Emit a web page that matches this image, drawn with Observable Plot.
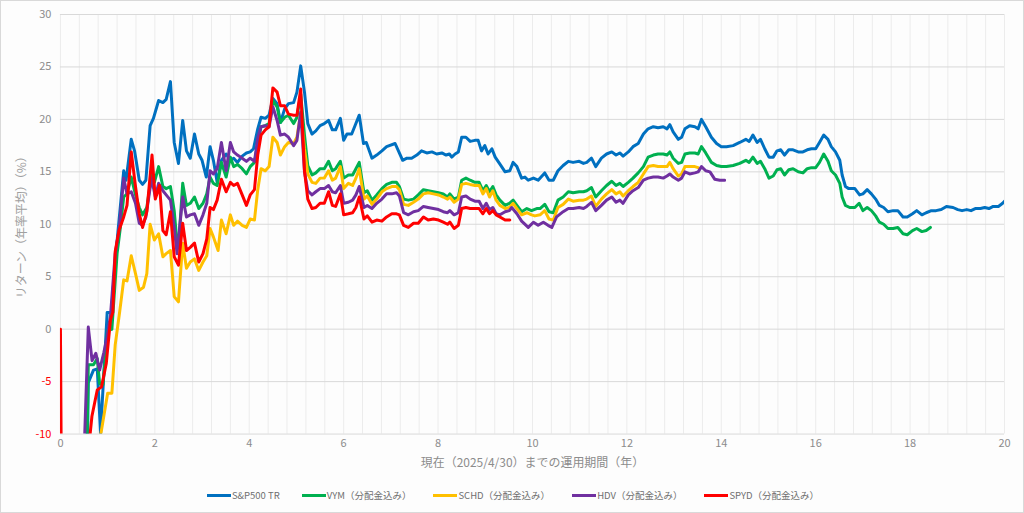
<!DOCTYPE html>
<html>
<head>
<meta charset="utf-8">
<script src="https://cdn.jsdelivr.net/npm/d3@7"></script>
<script src="https://cdn.jsdelivr.net/npm/@observablehq/plot@0.6"></script>
<style>
  html, body { margin: 0; padding: 0; background: #ffffff; }
  #frame { position: relative; width: 1022px; height: 511px; border: 1px solid #d9d9d9; background: #fdfdfd; overflow: hidden; font-family: "Noto Sans CJK JP", "Noto Sans", sans-serif; }
  #chart { position: absolute; left: -1px; top: -1px; }
  #legend { position: absolute; left: 0; top: 487px; width: 1024px; display: flex; justify-content: center; align-items: center; font-size: 9.5px; color: #6f6f6f; }
  .item { display: flex; align-items: center; margin-right: 22px; }
  .item:last-child { margin-right: 0; }
  .sw { width: 24px; height: 3px; margin-right: 1px; }
</style>
</head>
<body>
<div id="frame"><div id="chart"></div><div id="legend"></div></div>
<script>
const seriesNames = ["S&P500 TR", "VYM（分配金込み）", "SCHD（分配金込み）", "HDV（分配金込み）", "SPYD（分配金込み）"];
const seriesColors = ["#0070C0", "#00B050", "#FFC000", "#7030A0", "#FF0000"];
const xTicks = [0, 2, 4, 6, 8, 10, 12, 14, 16, 18, 20];
const yTicks = [-10, -5, 0, 5, 10, 15, 20, 25, 30];
const xTitle = "現在（2025/4/30）までの運用期間（年）";
const yTitle = "リターン（年率平均）（%）";

// [運用期間(年), 年率リターン(%)]
const sp500 = [[0.5,-35],[0.59,-5.1],[0.70,-3.9],[0.78,-3.8],[0.85,-9.9],[0.99,1.6],[1.08,1.6],[1.17,7.0],[1.25,10.8],[1.34,15.1],[1.39,14.2],[1.50,18.1],[1.57,17.0],[1.67,14.2],[1.74,13.8],[1.81,14.2],[1.90,19.4],[1.97,20.1],[2.08,21.8],[2.17,21.6],[2.24,21.9],[2.33,23.6],[2.41,17.8],[2.50,15.8],[2.59,19.9],[2.67,17.0],[2.75,16.3],[2.84,18.6],[2.93,16.7],[3.0,16.1],[3.09,14.5],[3.17,17.4],[3.24,16.1],[3.32,14.0],[3.41,16.1],[3.51,16.7],[3.6,16.1],[3.67,16.3],[3.75,15.9],[3.85,16.5],[3.94,16.8],[4.02,16.9],[4.09,17.2],[4.18,19.1],[4.25,20.2],[4.34,20.1],[4.42,20.4],[4.50,22.0],[4.59,21.5],[4.66,19.7],[4.75,21.0],[4.83,21.5],[4.94,21.6],[5.01,22.6],[5.09,25.1],[5.17,22.6],[5.24,19.6],[5.33,18.6],[5.41,18.9],[5.50,19.4],[5.59,19.6],[5.68,19.9],[5.76,19.0],[5.83,19.0],[5.93,20.1],[6.0,18.0],[6.07,18.6],[6.17,18.6],[6.24,19.4],[6.33,20.4],[6.42,17.7],[6.48,17.8],[6.60,16.3],[6.70,16.6],[6.81,17.0],[6.91,17.4],[7.09,17.7],[7.16,17.0],[7.25,16.1],[7.34,16.3],[7.44,16.3],[7.55,16.6],[7.65,17.0],[7.76,16.8],[7.87,16.9],[7.97,16.7],[8.08,16.8],[8.17,16.6],[8.24,16.7],[8.29,16.4],[8.36,16.7],[8.43,16.9],[8.50,18.3],[8.59,18.3],[8.68,17.9],[8.78,18.0],[8.85,18.0],[8.92,17.0],[8.99,17.5],[9.06,16.7],[9.14,17.2],[9.21,16.4],[9.30,15.8],[9.42,15.0],[9.52,15.1],[9.59,15.9],[9.67,15.5],[9.77,14.4],[9.84,14.5],[9.91,14.2],[10.02,14.4],[10.12,14.2],[10.26,14.9],[10.35,14.2],[10.44,14.2],[10.54,15.1],[10.65,15.6],[10.76,16.0],[10.86,15.9],[10.99,16.0],[11.08,15.8],[11.15,15.9],[11.25,16.3],[11.34,15.5],[11.46,16.3],[11.57,16.7],[11.68,16.9],[11.77,16.6],[11.85,16.8],[11.92,16.5],[12.03,16.9],[12.13,17.4],[12.24,17.7],[12.35,18.6],[12.45,19.1],[12.56,19.3],[12.66,19.2],[12.77,19.3],[12.85,19.1],[12.91,19.5],[12.98,18.8],[13.09,18.1],[13.16,18.3],[13.23,19.1],[13.33,19.4],[13.44,19.3],[13.51,19.1],[13.58,20.0],[13.67,19.3],[13.79,18.3],[13.90,17.7],[14.0,17.4],[14.11,17.4],[14.25,17.5],[14.39,17.8],[14.52,18.1],[14.59,17.9],[14.67,18.5],[14.76,17.8],[14.83,18.1],[14.92,17.2],[15.01,16.4],[15.10,16.4],[15.18,17.0],[15.26,17.1],[15.34,16.6],[15.43,17.1],[15.52,17.1],[15.63,16.9],[15.73,16.9],[15.82,17.1],[15.91,17.2],[16.0,17.2],[16.08,17.8],[16.17,18.5],[16.26,18.1],[16.33,17.4],[16.42,16.9],[16.51,16.1],[16.56,14.7],[16.63,13.6],[16.70,13.4],[16.83,13.4],[16.93,12.8],[17.0,12.9],[17.09,13.3],[17.18,12.9],[17.27,12.4],[17.35,11.8],[17.44,11.6],[17.53,11.2],[17.64,11.3],[17.74,11.3],[17.85,10.7],[17.94,10.7],[18.05,11.0],[18.14,11.3],[18.25,10.9],[18.34,11.1],[18.45,11.3],[18.55,11.3],[18.66,11.4],[18.77,11.7],[18.91,11.6],[19.01,11.4],[19.10,11.3],[19.20,11.4],[19.29,11.3],[19.38,11.5],[19.49,11.5],[19.58,11.6],[19.67,11.5],[19.76,11.7],[19.87,11.7],[19.96,12.0],[20.0,12.2]];

const vym = [[0.5,-27],[0.59,-3.4],[0.70,-3.4],[0.78,-2.8],[0.83,-5.2],[0.90,-5.3],[1.0,-0.1],[1.09,0.0],[1.20,7.2],[1.27,9.7],[1.34,12.6],[1.41,12.9],[1.50,14.5],[1.59,12.8],[1.67,11.6],[1.74,10.9],[1.83,11.6],[1.93,14.7],[1.99,14.0],[2.08,15.5],[2.17,13.6],[2.24,13.4],[2.33,13.6],[2.41,11.3],[2.47,8.2],[2.50,7.8],[2.59,13.9],[2.67,11.8],[2.75,12.0],[2.84,12.6],[2.93,11.5],[3.02,12.0],[3.10,12.9],[3.17,14.5],[3.24,13.9],[3.32,13.7],[3.41,15.9],[3.51,14.5],[3.60,16.4],[3.67,15.5],[3.75,15.7],[3.85,15.3],[3.94,14.8],[4.02,15.5],[4.11,15.9],[4.18,17.7],[4.25,19.3],[4.34,19.4],[4.42,19.6],[4.50,21.8],[4.59,21.2],[4.66,19.7],[4.75,20.2],[4.83,20.4],[4.94,19.6],[5.01,20.2],[5.09,22.4],[5.17,18.5],[5.24,15.6],[5.33,14.7],[5.41,14.9],[5.50,15.3],[5.59,15.3],[5.68,16.0],[5.76,15.1],[5.83,15.3],[5.93,16.0],[6.0,14.4],[6.10,14.7],[6.19,14.7],[6.26,15.3],[6.33,15.9],[6.43,13.0],[6.50,13.2],[6.60,12.3],[6.70,12.8],[6.81,13.4],[6.91,13.8],[7.02,14.0],[7.12,14.0],[7.18,13.6],[7.27,12.4],[7.37,12.3],[7.48,12.4],[7.58,12.8],[7.69,13.3],[7.79,13.2],[7.90,13.1],[8.01,13.0],[8.11,12.9],[8.20,12.6],[8.25,12.9],[8.34,12.4],[8.43,12.6],[8.50,14.2],[8.59,14.4],[8.68,14.2],[8.78,14.0],[8.87,14.0],[8.95,13.2],[9.02,13.7],[9.09,13.1],[9.16,13.6],[9.23,12.8],[9.31,12.3],[9.42,11.8],[9.51,12.0],[9.59,12.3],[9.67,11.8],[9.77,11.2],[9.88,11.5],[9.98,11.3],[10.09,11.5],[10.16,11.5],[10.26,11.9],[10.35,11.2],[10.44,11.1],[10.54,12.3],[10.65,12.6],[10.76,13.1],[10.86,13.0],[10.99,13.1],[11.08,13.1],[11.15,13.2],[11.25,13.5],[11.34,12.6],[11.46,13.2],[11.57,13.7],[11.68,14.1],[11.77,13.7],[11.85,13.9],[11.92,13.6],[12.03,14.0],[12.13,14.4],[12.24,14.9],[12.35,15.5],[12.45,16.4],[12.56,16.6],[12.66,16.7],[12.77,16.7],[12.85,16.6],[12.91,16.9],[12.98,16.3],[13.09,15.8],[13.16,15.9],[13.23,16.7],[13.33,16.8],[13.44,16.8],[13.51,16.7],[13.58,17.4],[13.67,16.8],[13.79,15.9],[13.90,15.6],[14.0,15.5],[14.11,15.5],[14.25,15.6],[14.39,15.8],[14.52,16.1],[14.59,15.9],[14.67,16.4],[14.76,15.8],[14.83,16.0],[14.92,15.3],[15.01,14.4],[15.10,14.6],[15.18,15.2],[15.26,15.3],[15.34,14.7],[15.43,15.2],[15.52,15.3],[15.63,15.0],[15.73,14.9],[15.82,15.3],[15.91,15.4],[16.0,15.4],[16.08,15.9],[16.17,16.7],[16.26,16.0],[16.33,15.1],[16.42,14.7],[16.51,13.9],[16.56,12.6],[16.63,11.8],[16.72,11.6],[16.83,11.6],[16.92,12.0],[17.0,11.3],[17.09,11.6],[17.18,11.3],[17.27,10.8],[17.35,10.2],[17.44,10.0],[17.53,9.6],[17.64,9.6],[17.74,9.7],[17.85,9.1],[17.94,9.0],[18.05,9.4],[18.14,9.6],[18.25,9.3],[18.34,9.4],[18.43,9.7]];

const schd = [[0.75,-14],[0.833,-10.6],[1.0,-6.1],[1.09,-6.1],[1.16,-1.5],[1.25,1.5],[1.34,4.7],[1.41,4.6],[1.50,7.0],[1.59,5.3],[1.67,3.7],[1.76,4.0],[1.83,5.3],[1.90,10.0],[1.99,8.5],[2.08,9.1],[2.17,6.9],[2.24,7.2],[2.33,7.5],[2.41,3.1],[2.50,2.6],[2.59,8.2],[2.67,5.8],[2.75,6.4],[2.84,6.7],[2.93,5.6],[3.02,6.4],[3.10,7.0],[3.17,9.6],[3.24,8.8],[3.34,7.5],[3.41,10.4],[3.51,9.1],[3.60,10.9],[3.67,9.9],[3.75,10.3],[3.85,9.9],[3.94,9.7],[4.02,10.5],[4.11,10.4],[4.18,13.3],[4.25,15.3],[4.34,15.1],[4.42,15.5],[4.50,18.3],[4.59,17.8],[4.66,16.6],[4.75,17.4],[4.83,17.8],[4.94,17.7],[5.01,18.3],[5.09,20.6],[5.17,17.2],[5.24,14.8],[5.33,14.0],[5.41,13.9],[5.50,14.4],[5.59,14.4],[5.68,15.1],[5.76,14.2],[5.83,14.4],[5.93,15.5],[6.0,13.4],[6.10,13.9],[6.19,13.7],[6.26,14.4],[6.33,15.3],[6.43,12.4],[6.50,12.7],[6.60,11.9],[6.70,12.4],[6.81,13.1],[6.91,13.4],[7.02,13.6],[7.12,13.6],[7.18,13.3],[7.27,11.9],[7.37,11.8],[7.48,12.1],[7.58,12.4],[7.69,12.9],[7.79,13.0],[7.90,12.9],[8.01,12.8],[8.11,12.6],[8.20,12.4],[8.25,12.6],[8.34,12.1],[8.43,12.4],[8.50,13.8],[8.59,13.9],[8.68,13.8],[8.78,13.7],[8.87,13.7],[8.95,12.9],[9.02,13.4],[9.09,12.6],[9.16,13.2],[9.23,12.3],[9.31,11.8],[9.42,11.5],[9.51,11.6],[9.59,12.0],[9.67,11.5],[9.77,10.9],[9.88,11.1],[9.98,10.9],[10.05,10.8],[10.16,10.9],[10.26,11.3],[10.35,10.5],[10.44,10.4],[10.54,11.6],[10.65,11.9],[10.76,12.4],[10.86,12.2],[10.99,12.3],[11.08,12.3],[11.15,12.4],[11.25,12.7],[11.34,11.7],[11.46,12.4],[11.57,12.9],[11.68,13.3],[11.77,12.9],[11.85,13.1],[11.92,12.7],[12.03,13.2],[12.13,13.6],[12.24,14.0],[12.35,14.8],[12.45,15.5],[12.56,15.6],[12.66,15.5],[12.77,15.5],[12.85,15.5],[12.91,15.9],[12.98,15.3],[13.09,14.6],[13.16,14.8],[13.23,15.5],[13.33,15.5],[13.44,15.5],[13.51,15.4]];

const hdv = [[0.5,-12],[0.59,0.2],[0.67,-3.0],[0.75,-2.3],[0.83,-3.9],[0.92,-2.2],[0.99,-0.7],[1.06,1.3],[1.16,7.2],[1.24,9.4],[1.34,14.4],[1.41,12.9],[1.50,13.1],[1.59,12.0],[1.67,10.1],[1.74,9.9],[1.81,10.7],[1.93,14.4],[2.01,12.6],[2.08,13.9],[2.17,13.2],[2.24,12.8],[2.33,12.3],[2.41,9.7],[2.47,7.2],[2.59,12.6],[2.67,10.7],[2.75,10.9],[2.84,11.0],[2.93,9.9],[3.02,10.9],[3.10,12.0],[3.17,15.1],[3.24,14.8],[3.32,15.3],[3.41,17.8],[3.51,15.1],[3.60,17.8],[3.67,16.9],[3.75,16.6],[3.85,16.3],[3.94,16.0],[4.02,16.3],[4.11,16.0],[4.18,18.2],[4.25,19.3],[4.34,19.4],[4.42,19.3],[4.50,21.2],[4.59,19.9],[4.66,18.5],[4.75,18.6],[4.83,18.3],[4.94,17.5],[5.01,18.0],[5.09,20.7],[5.17,15.0],[5.24,13.2],[5.33,12.8],[5.41,13.1],[5.50,13.4],[5.59,13.4],[5.68,13.7],[5.76,13.1],[5.83,13.0],[5.93,13.7],[6.0,12.0],[6.10,12.1],[6.19,12.3],[6.26,12.8],[6.33,13.6],[6.43,11.6],[6.50,11.8],[6.60,11.5],[6.70,12.0],[6.81,12.4],[6.91,12.9],[7.02,12.9],[7.12,13.0],[7.18,12.7],[7.27,11.1],[7.37,10.9],[7.48,11.2],[7.58,11.3],[7.69,11.7],[7.79,11.6],[7.90,11.5],[8.01,11.4],[8.11,11.2],[8.20,11.1],[8.25,11.3],[8.34,10.9],[8.43,11.1],[8.50,12.6],[8.59,12.7],[8.68,12.4],[8.78,12.2],[8.87,12.2],[8.95,11.5],[9.02,12.0],[9.09,11.4],[9.16,11.6],[9.23,11.0],[9.31,10.9],[9.42,11.2],[9.51,11.3],[9.56,11.6],[9.67,11.0],[9.77,10.3],[9.91,9.7],[10.02,10.2],[10.12,9.9],[10.23,10.2],[10.33,9.9],[10.41,9.7],[10.51,10.7],[10.65,11.2],[10.76,11.5],[10.86,11.5],[10.99,11.6],[11.08,11.5],[11.15,11.7],[11.25,12.1],[11.34,11.3],[11.46,11.8],[11.57,12.3],[11.68,12.6],[11.77,12.1],[11.85,12.3],[11.92,12.0],[12.03,12.8],[12.13,13.2],[12.24,13.5],[12.35,14.2],[12.45,14.4],[12.56,14.5],[12.66,14.5],[12.77,14.4],[12.85,14.6],[12.91,14.8],[12.98,14.5],[13.09,14.2],[13.16,14.4],[13.23,15.0],[13.33,14.8],[13.44,14.9],[13.51,15.0],[13.58,15.5],[13.67,15.1],[13.76,15.0],[13.86,14.3],[13.97,14.2],[14.07,14.2]];

const spyd = [[0,0],[0.083,-60],[0.5,-30],[0.583,-12],[0.667,-8.3],[0.78,-5.8],[0.87,-5.5],[0.97,-3.3],[1.06,0.9],[1.11,1.6],[1.16,7.4],[1.24,9.4],[1.34,10.7],[1.41,11.8],[1.50,16.9],[1.59,13.6],[1.67,11.0],[1.74,9.7],[1.83,11.2],[1.94,16.6],[2.01,12.4],[2.10,13.7],[2.17,9.4],[2.24,9.0],[2.33,11.2],[2.41,6.9],[2.50,6.1],[2.59,10.1],[2.67,7.5],[2.75,7.8],[2.84,8.2],[2.93,6.4],[3.02,7.2],[3.10,8.6],[3.17,11.6],[3.24,11.4],[3.32,12.3],[3.41,14.3],[3.51,13.1],[3.60,14.0],[3.67,13.7],[3.75,13.9],[3.85,12.8],[3.94,11.8],[4.02,12.8],[4.11,13.3],[4.18,16.6],[4.25,18.5],[4.34,19.0],[4.42,19.3],[4.50,23.0],[4.59,22.6],[4.66,21.3],[4.75,21.3],[4.83,20.5],[4.94,20.4],[5.01,20.4],[5.09,22.9],[5.17,15.1],[5.24,12.4],[5.33,11.5],[5.41,11.6],[5.50,12.0],[5.59,12.0],[5.68,13.1],[5.76,11.8],[5.83,11.7],[5.93,12.9],[6.0,10.9],[6.10,11.0],[6.19,11.1],[6.26,11.6],[6.33,12.6],[6.43,10.5],[6.50,10.8],[6.60,10.2],[6.70,10.4],[6.81,10.3],[6.91,10.7],[7.02,11.0],[7.12,11.0],[7.18,10.9],[7.27,9.9],[7.37,9.7],[7.48,10.1],[7.58,10.1],[7.69,10.7],[7.79,10.4],[7.90,10.5],[8.01,10.4],[8.11,10.2],[8.20,10.0],[8.25,10.2],[8.34,9.6],[8.43,9.9],[8.50,11.5],[8.59,11.6],[8.68,11.5],[8.78,11.5],[8.87,11.5],[8.95,11.0],[9.02,11.5],[9.09,11.0],[9.16,11.3],[9.23,10.9],[9.31,10.7],[9.42,10.4],[9.52,10.4]];

const allSeries = [sp500, vym, schd, hdv, spyd];
const minorX = d3.range(0, 20.001, 0.4).map(v => Math.round(v * 10) / 10);

const lineMarks = allSeries.map((s, i) => Plot.line(s, {
  x: d => d[0], y: d => d[1], stroke: seriesColors[i], strokeWidth: 3,
  strokeLinejoin: "round", strokeLinecap: "round", clip: true
}));

const chart = Plot.plot({
  width: 1024,
  height: 476,
  marginLeft: 60,
  marginRight: 19,
  marginTop: 14,
  marginBottom: 42,
  style: { background: "transparent", fontFamily: "'Noto Sans CJK JP', 'Noto Sans', sans-serif" },
  x: { domain: [0, 20], axis: null },
  y: { domain: [-10, 30], axis: null },
  marks: [
    Plot.ruleX(minorX, { x: d => d, stroke: "#ececec", strokeWidth: 1 }),
    Plot.ruleY(yTicks, { y: d => d, stroke: "#d9d9d9", strokeWidth: 1 }),
    ...lineMarks,
    Plot.text(yTicks, { y: d => d, text: d => String(d), frameAnchor: "left", dx: -9, textAnchor: "end", fontSize: 11, fill: d => d < 0 ? "#ff0000" : "#8c8c8c" }),
    Plot.text(xTicks, { x: d => d, text: d => String(d), frameAnchor: "bottom", dy: 13, fontSize: 11, fill: "#8c8c8c" }),
    Plot.text([xTitle], { text: d => d, frameAnchor: "bottom", dy: 33, fontSize: 12, fill: "#8c8c8c" }),
    Plot.text([yTitle], { text: d => d, frameAnchor: "left", textAnchor: "middle", dx: -38, rotate: -90, fontSize: 12, fill: "#a0a0a0" })
  ]
});
document.getElementById("chart").appendChild(chart);

const legend = document.getElementById("legend");
seriesNames.forEach((name, i) => {
  const item = document.createElement("div");
  item.className = "item";
  const sw = document.createElement("span");
  sw.className = "sw";
  sw.style.background = seriesColors[i];
  const label = document.createElement("span");
  label.textContent = name;
  item.appendChild(sw);
  item.appendChild(label);
  legend.appendChild(item);
});
</script>
</body>
</html>
